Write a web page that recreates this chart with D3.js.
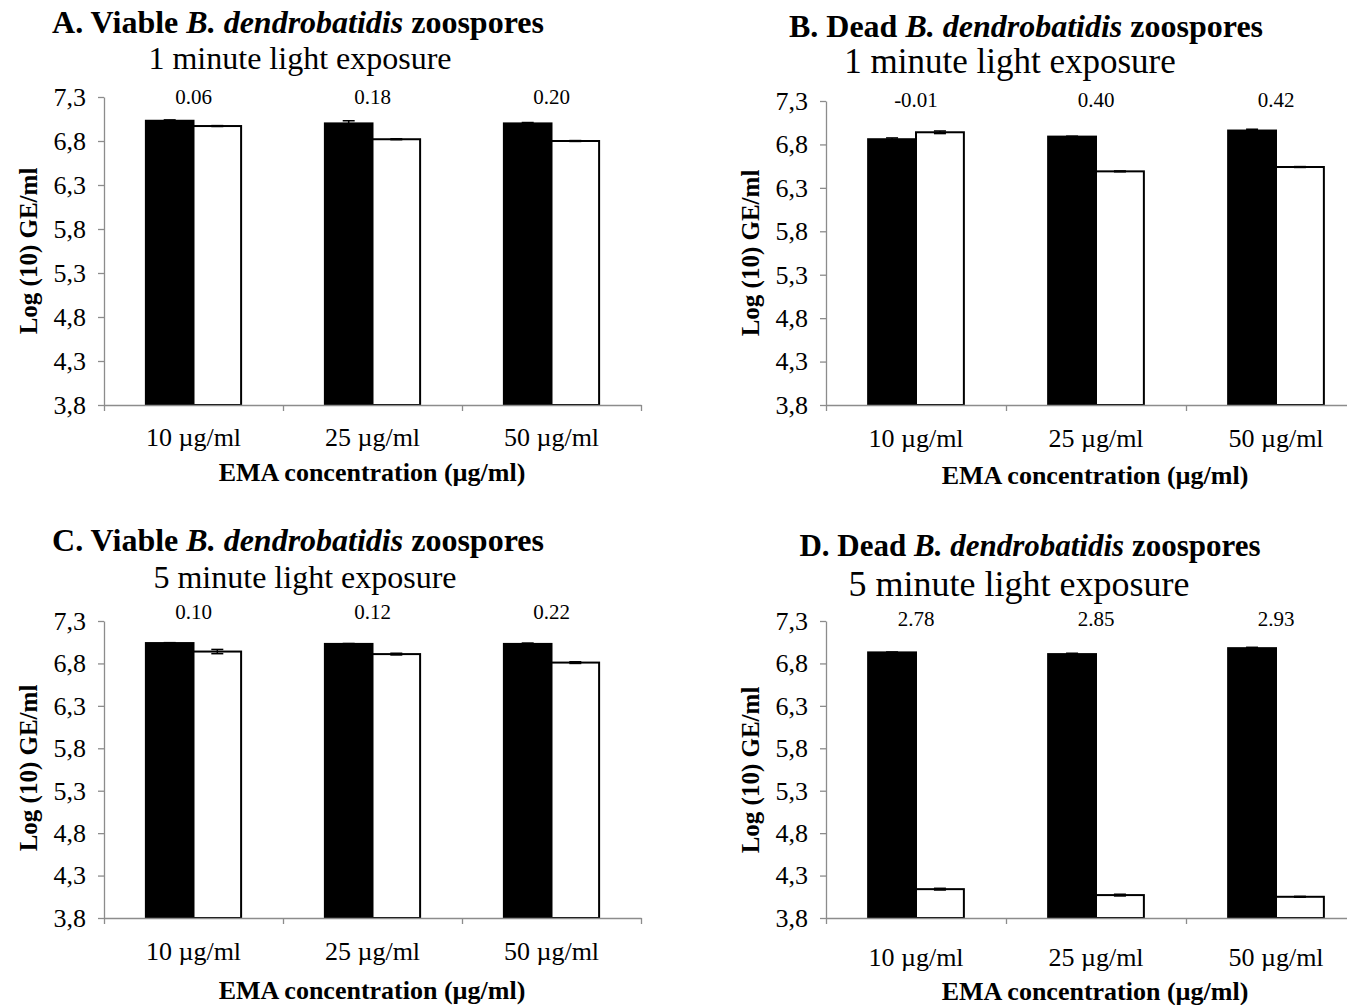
<!DOCTYPE html>
<html>
<head>
<meta charset="utf-8">
<script src="https://cdn.jsdelivr.net/npm/d3@7"></script>
<style>
  html, body { margin: 0; padding: 0; background: #fff; }
  svg { display: block; font-family: "Liberation Serif", "Times New Roman", serif; }
</style>
</head>
<body>
<svg id="chart" width="1347" height="1005"></svg>
<script>
// Categories and tick values shared by all four panels
const categories = ["10 µg/ml", "25 µg/ml", "50 µg/ml"];
const series = ["untreated", "EMA"];
const yTicks = [3.8, 4.3, 4.8, 5.3, 5.8, 6.3, 6.8, 7.3];

// Panel A: viable zoospores, 1 minute light exposure
const viable1Untreated = [7.03, 7.00, 7.00];
const viable1Ema = [6.97, 6.82, 6.80];
const viable1UntreatedErr = [0.01, 0.03, 0.01];
const viable1EmaErr = [0.005, 0.005, 0.005];
const viable1Diff = ["0.06", "0.18", "0.20"];

// Panel B: dead zoospores, 1 minute light exposure
const dead1Untreated = [6.86, 6.89, 6.96];
const dead1Ema = [6.94, 6.49, 6.54];
const dead1UntreatedErr = [0.015, 0.005, 0.015];
const dead1EmaErr = [0.015, 0.005, 0.005];
const dead1Diff = ["-0.01", "0.40", "0.42"];

// Panel C: viable zoospores, 5 minute light exposure
const viable5Untreated = [7.04, 7.03, 7.03];
const viable5Ema = [6.94, 6.91, 6.81];
const viable5UntreatedErr = [0.005, 0.005, 0.01];
const viable5EmaErr = [0.025, 0.01, 0.01];
const viable5Diff = ["0.10", "0.12", "0.22"];

// Panel D: dead zoospores, 5 minute light exposure
const dead5Untreated = [6.93, 6.91, 6.98];
const dead5Ema = [4.14, 4.07, 4.05];
const dead5UntreatedErr = [0.005, 0.01, 0.01];
const dead5EmaErr = [0.01, 0.01, 0.005];
const dead5Diff = ["2.78", "2.85", "2.93"];

const panels = [
  { letter: "A.", state: "Viable", exposure: "1 minute light exposure",
    untreated: viable1Untreated, ema: viable1Ema, errU: viable1UntreatedErr, errE: viable1EmaErr, diff: viable1Diff,
    left: 104, right: 641, top: 97, bottom: 405, titleSize: 32, subSize: 32,
    titleX: 298, titleY: 33, subX: 300, subY: 69, valueY: 104, catY: 446, axisTitleX: 372, axisTitleY: 481,
    yTitleX: 37, yTitleY: 251 },
  { letter: "B.", state: "Dead", exposure: "1 minute light exposure",
    untreated: dead1Untreated, ema: dead1Ema, errU: dead1UntreatedErr, errE: dead1EmaErr, diff: dead1Diff,
    left: 826, right: 1366, top: 101, bottom: 405, titleSize: 32, subSize: 35,
    titleX: 1026, titleY: 37, subX: 1010, subY: 73, valueY: 107, catY: 447, axisTitleX: 1095, axisTitleY: 484,
    yTitleX: 759, yTitleY: 253 },
  { letter: "C.", state: "Viable", exposure: "5 minute light exposure",
    untreated: viable5Untreated, ema: viable5Ema, errU: viable5UntreatedErr, errE: viable5EmaErr, diff: viable5Diff,
    left: 104, right: 641, top: 621, bottom: 918, titleSize: 32, subSize: 32,
    titleX: 298, titleY: 551, subX: 305, subY: 588, valueY: 619, catY: 960, axisTitleX: 372, axisTitleY: 999,
    yTitleX: 37, yTitleY: 768 },
  { letter: "D.", state: "Dead", exposure: "5 minute light exposure",
    untreated: dead5Untreated, ema: dead5Ema, errU: dead5UntreatedErr, errE: dead5EmaErr, diff: dead5Diff,
    left: 826, right: 1366, top: 621, bottom: 918, titleSize: 31, subSize: 36,
    titleX: 1030, titleY: 556, subX: 1019, subY: 596, valueY: 626, catY: 966, axisTitleX: 1095, axisTitleY: 1000,
    yTitleX: 759, yTitleY: 770 }
];

const svg = d3.select("#chart");
const fmtComma = d => d3.format(".1f")(d).replace(".", ",");

panels.forEach(p => {
  const g = svg.append("g");

  const y = d3.scaleLinear().domain([3.8, 7.3]).range([p.bottom, p.top]);
  const x0 = d3.scaleBand().domain(categories).range([p.left, p.right]).paddingInner(0).paddingOuter(0);
  const x1 = d3.scaleBand().domain(series).range([0, x0.bandwidth()]).paddingInner(0).paddingOuter(0.88);
  const xEdge = d3.scaleLinear().domain([0, categories.length]).range([p.left, p.right]);

  // Title with italic species name
  const title = g.append("text")
    .attr("x", p.titleX).attr("y", p.titleY)
    .attr("text-anchor", "middle")
    .style("font-size", p.titleSize + "px").style("font-weight", "bold");
  title.append("tspan").text(p.letter + " " + p.state + " ");
  title.append("tspan").style("font-style", "italic").text("B. dendrobatidis");
  title.append("tspan").text(" zoospores");

  g.append("text")
    .attr("x", p.subX).attr("y", p.subY)
    .attr("text-anchor", "middle")
    .style("font-size", p.subSize + "px")
    .text(p.exposure);

  // Y axis
  const yAxis = g.append("g")
    .attr("transform", `translate(${p.left},0)`)
    .call(d3.axisLeft(y).tickValues(yTicks).tickFormat(fmtComma).tickSize(6).tickSizeOuter(0).tickPadding(12));
  yAxis.selectAll("path, line").attr("stroke", "#8c8c8c").attr("stroke-width", 1.3);
  yAxis.selectAll("text").style("font-size", "26px").attr("fill", "#000")
    .style("font-family", "'Liberation Serif', serif");

  // Y axis title
  g.append("text")
    .attr("transform", `translate(${p.yTitleX},${p.yTitleY}) rotate(-90)`)
    .attr("text-anchor", "middle")
    .style("font-size", "25px").style("font-weight", "bold")
    .text("Log (10) GE/ml");

  // Bars
  const rows = categories.map((c, i) => ({
    cat: c,
    vals: [
      { s: "untreated", v: p.untreated[i], e: p.errU[i] },
      { s: "EMA", v: p.ema[i], e: p.errE[i] }
    ]
  }));

  const grp = g.selectAll("g.cat").data(rows).join("g")
    .attr("class", "cat")
    .attr("transform", d => `translate(${x0(d.cat)},0)`);

  grp.selectAll("rect").data(d => d.vals).join("rect")
    .attr("x", d => x1(d.s))
    .attr("width", x1.bandwidth())
    .attr("y", d => y(d.v))
    .attr("height", d => y(3.8) - y(d.v))
    .attr("fill", d => d.s === "untreated" ? "#000" : "#fff")
    .attr("stroke", "#000")
    .attr("stroke-width", 2);

  // Error bars
  const eb = grp.selectAll("g.err").data(d => d.vals).join("g").attr("class", "err");
  eb.append("line")
    .attr("x1", d => x1(d.s) + x1.bandwidth() / 2).attr("x2", d => x1(d.s) + x1.bandwidth() / 2)
    .attr("y1", d => y(d.v + d.e)).attr("y2", d => y(d.v - d.e))
    .attr("stroke", "#000").attr("stroke-width", 1.5);
  eb.selectAll("line.cap").data(d => [{ d, v: d.v + d.e }, { d, v: d.v - d.e }]).join("line")
    .attr("class", "cap")
    .attr("x1", c => x1(c.d.s) + x1.bandwidth() / 2 - 6).attr("x2", c => x1(c.d.s) + x1.bandwidth() / 2 + 6)
    .attr("y1", c => y(c.v)).attr("y2", c => y(c.v))
    .attr("stroke", "#000").attr("stroke-width", 1.5);

  // X axis: baseline with ticks at category edges
  const xAxis = g.append("g")
    .attr("transform", `translate(0,${p.bottom})`)
    .call(d3.axisBottom(xEdge).tickValues(d3.range(categories.length + 1)).tickFormat("").tickSize(6).tickSizeOuter(0));
  xAxis.selectAll("path, line").attr("stroke", "#8c8c8c").attr("stroke-width", 1.3);

  // Category labels
  g.selectAll("text.catlab").data(categories).join("text")
    .attr("class", "catlab")
    .attr("x", d => x0(d) + x0.bandwidth() / 2)
    .attr("y", p.catY)
    .attr("text-anchor", "middle")
    .style("font-size", "26px")
    .text(d => d);

  // Difference labels above each pair
  g.selectAll("text.diff").data(categories).join("text")
    .attr("class", "diff")
    .attr("x", d => x0(d) + x0.bandwidth() / 2)
    .attr("y", p.valueY)
    .attr("text-anchor", "middle")
    .style("font-size", "21px")
    .text((d, i) => p.diff[i]);

  // X axis title
  g.append("text")
    .attr("x", p.axisTitleX).attr("y", p.axisTitleY)
    .attr("text-anchor", "middle")
    .style("font-size", "26px").style("font-weight", "bold")
    .text("EMA concentration (µg/ml)");
});
</script>
</body>
</html>
